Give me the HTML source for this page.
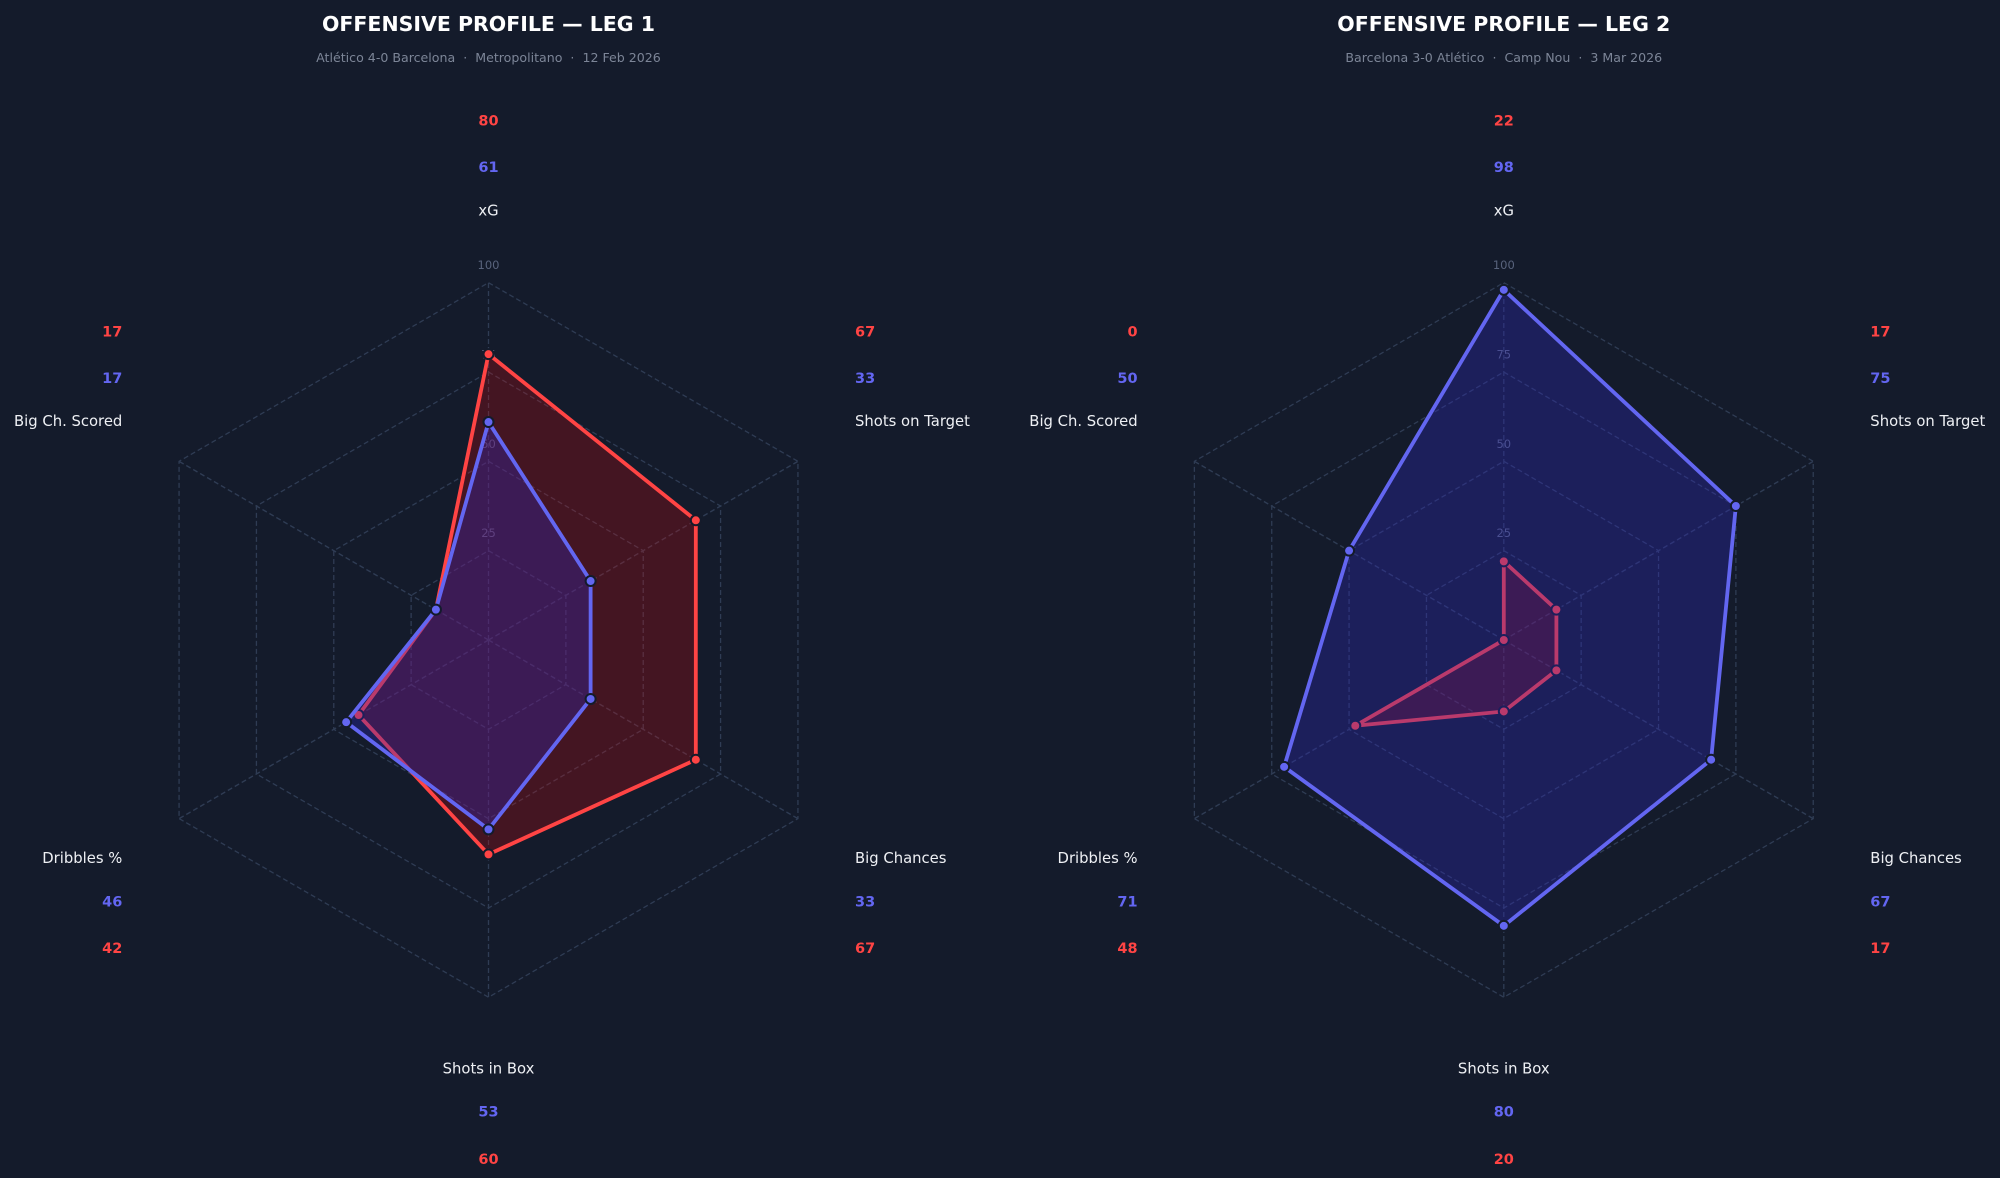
<!DOCTYPE html>
<html>
<head>
<meta charset="utf-8">
<style>
  html,body{margin:0;padding:0;background:#141b2b;}
  svg{display:block;}
  text{font-family:"DejaVu Sans","Liberation Sans",sans-serif;}
  .title{font-size:20.5px;font-weight:bold;fill:#ffffff;}
  .sub{font-size:12.6px;fill:#7c8597;white-space:pre;}
  .tick{font-size:11.5px;fill:#58637c;}
  .lab{font-size:14.8px;fill:#eef0f4;}
  .vr{font-size:14.5px;font-weight:bold;fill:#ff4444;}
  .vb{font-size:14.5px;font-weight:bold;fill:#6366f1;}
  .grid{fill:none;stroke:#2f3c54;stroke-width:1.3;stroke-dasharray:5 3;}
</style>
</head>
<body>
<svg width="2000" height="1178" viewBox="0 0 2000 1178" xmlns="http://www.w3.org/2000/svg">
  <rect x="0" y="0" width="2000" height="1178" fill="#141b2b"/>

  <!-- Titles -->
  <text class="title" x="488.5" y="30.8" text-anchor="middle">OFFENSIVE PROFILE — LEG 1</text>
  <text class="sub" x="488.5" y="62" text-anchor="middle" xml:space="preserve">Atlético 4-0 Barcelona  ·  Metropolitano  ·  12 Feb 2026</text>
  <text class="title" x="1503.8" y="30.8" text-anchor="middle">OFFENSIVE PROFILE — LEG 2</text>
  <text class="sub" x="1503.8" y="62" text-anchor="middle" xml:space="preserve">Barcelona 3-0 Atlético  ·  Camp Nou  ·  3 Mar 2026</text>

  <!-- LEG 1 -->
  <g transform="translate(488.5,640)">
    <polygon class="grid" points="0,-89.33 77.36,-44.66 77.36,44.66 0,89.33 -77.36,44.66 -77.36,-44.66"/>
    <polygon class="grid" points="0,-178.65 154.72,-89.33 154.72,89.33 0,178.65 -154.72,89.33 -154.72,-89.33"/>
    <polygon class="grid" points="0,-267.98 232.07,-133.99 232.07,133.99 0,267.98 -232.07,133.99 -232.07,-133.99"/>
    <polygon class="grid" points="0,-357.3 309.43,-178.65 309.43,178.65 0,357.3 -309.43,178.65 -309.43,-178.65"/>
    <line class="grid" x1="0" y1="0" x2="0" y2="-357.3"/>
    <line class="grid" x1="0" y1="0" x2="309.43" y2="-178.65"/>
    <line class="grid" x1="0" y1="0" x2="309.43" y2="178.65"/>
    <line class="grid" x1="0" y1="0" x2="0" y2="357.3"/>
    <line class="grid" x1="0" y1="0" x2="-309.43" y2="178.65"/>
    <line class="grid" x1="0" y1="0" x2="-309.43" y2="-178.65"/>
    <text class="tick" x="0" y="-102.8" text-anchor="middle">25</text>
    <text class="tick" x="0" y="-192.1" text-anchor="middle">50</text>
    <text class="tick" x="0" y="-281.5" text-anchor="middle">75</text>
    <text class="tick" x="0" y="-370.8" text-anchor="middle">100</text>

    <!-- red (Atlético) -->
    <polygon points="0,-285.84 207.32,-119.70 207.32,119.70 0,214.38 -129.96,75.03 -52.60,-30.37" fill="rgb(230,5,5)" fill-opacity="0.23" stroke="none"/>
    <polygon points="0,-285.84 207.32,-119.70 207.32,119.70 0,214.38 -129.96,75.03 -52.60,-30.37" fill="none" stroke="#ff4444" stroke-width="3.8" stroke-linejoin="miter"/>
    <g fill="#ff4444" stroke="#141b2b" stroke-width="2">
      <circle cx="0" cy="-285.84" r="5"/>
      <circle cx="207.32" cy="-119.70" r="5"/>
      <circle cx="207.32" cy="119.70" r="5"/>
      <circle cx="0" cy="214.38" r="5"/>
      <circle cx="-129.96" cy="75.03" r="5"/>
      <circle cx="-52.60" cy="-30.37" r="5"/>
    </g>
    <!-- blue (Barcelona) -->
    <polygon points="0,-217.95 102.11,-58.95 102.11,58.95 0,189.37 -142.34,82.18 -52.60,-30.37" fill="rgb(45,40,190)" fill-opacity="0.33" stroke="none"/>
    <polygon points="0,-217.95 102.11,-58.95 102.11,58.95 0,189.37 -142.34,82.18 -52.60,-30.37" fill="none" stroke="#6366f1" stroke-width="3.8"/>
    <g fill="#6366f1" stroke="#141b2b" stroke-width="2">
      <circle cx="0" cy="-217.95" r="5"/>
      <circle cx="102.11" cy="-58.95" r="5"/>
      <circle cx="102.11" cy="58.95" r="5"/>
      <circle cx="0" cy="189.37" r="5"/>
      <circle cx="-142.34" cy="82.18" r="5"/>
      <circle cx="-52.60" cy="-30.37" r="5"/>
    </g>

    <!-- labels -->
    <text class="vr" x="0" y="-514.5" text-anchor="middle">80</text>
    <text class="vb" x="0" y="-467.8" text-anchor="middle">61</text>
    <text class="lab" x="0" y="-424.5" text-anchor="middle">xG</text>

    <text class="vr" x="366.5" y="-303.7" text-anchor="start">67</text>
    <text class="vb" x="366.5" y="-257" text-anchor="start">33</text>
    <text class="lab" x="366.5" y="-214" text-anchor="start">Shots on Target</text>

    <text class="lab" x="366.5" y="223" text-anchor="start">Big Chances</text>
    <text class="vb" x="366.5" y="266.3" text-anchor="start">33</text>
    <text class="vr" x="366.5" y="312.8" text-anchor="start">67</text>

    <text class="lab" x="0" y="433.7" text-anchor="middle">Shots in Box</text>
    <text class="vb" x="0" y="476.5" text-anchor="middle">53</text>
    <text class="vr" x="0" y="523.8" text-anchor="middle">60</text>

    <text class="lab" x="-366.2" y="223" text-anchor="end">Dribbles %</text>
    <text class="vb" x="-366.2" y="266.3" text-anchor="end">46</text>
    <text class="vr" x="-366.2" y="312.8" text-anchor="end">42</text>

    <text class="vr" x="-366.2" y="-303.7" text-anchor="end">17</text>
    <text class="vb" x="-366.2" y="-257" text-anchor="end">17</text>
    <text class="lab" x="-366.2" y="-214" text-anchor="end">Big Ch. Scored</text>
  </g>

  <!-- LEG 2 -->
  <g transform="translate(1503.8,640)">
    <polygon class="grid" points="0,-89.33 77.36,-44.66 77.36,44.66 0,89.33 -77.36,44.66 -77.36,-44.66"/>
    <polygon class="grid" points="0,-178.65 154.72,-89.33 154.72,89.33 0,178.65 -154.72,89.33 -154.72,-89.33"/>
    <polygon class="grid" points="0,-267.98 232.07,-133.99 232.07,133.99 0,267.98 -232.07,133.99 -232.07,-133.99"/>
    <polygon class="grid" points="0,-357.3 309.43,-178.65 309.43,178.65 0,357.3 -309.43,178.65 -309.43,-178.65"/>
    <line class="grid" x1="0" y1="0" x2="0" y2="-357.3"/>
    <line class="grid" x1="0" y1="0" x2="309.43" y2="-178.65"/>
    <line class="grid" x1="0" y1="0" x2="309.43" y2="178.65"/>
    <line class="grid" x1="0" y1="0" x2="0" y2="357.3"/>
    <line class="grid" x1="0" y1="0" x2="-309.43" y2="178.65"/>
    <line class="grid" x1="0" y1="0" x2="-309.43" y2="-178.65"/>
    <text class="tick" x="0" y="-102.8" text-anchor="middle">25</text>
    <text class="tick" x="0" y="-192.1" text-anchor="middle">50</text>
    <text class="tick" x="0" y="-281.5" text-anchor="middle">75</text>
    <text class="tick" x="0" y="-370.8" text-anchor="middle">100</text>

    <!-- red (Atlético) -->
    <polygon points="0,-78.61 52.60,-30.37 52.60,30.37 0,71.46 -148.53,85.75 0,0" fill="rgb(230,5,5)" fill-opacity="0.23" stroke="none"/>
    <polygon points="0,-78.61 52.60,-30.37 52.60,30.37 0,71.46 -148.53,85.75 0,0" fill="none" stroke="#ff4444" stroke-width="3.8"/>
    <g fill="#ff4444" stroke="#141b2b" stroke-width="2">
      <circle cx="0" cy="-78.61" r="5"/>
      <circle cx="52.60" cy="-30.37" r="5"/>
      <circle cx="52.60" cy="30.37" r="5"/>
      <circle cx="0" cy="71.46" r="5"/>
      <circle cx="-148.53" cy="85.75" r="5"/>
      <circle cx="0" cy="0" r="5"/>
    </g>
    <!-- blue (Barcelona) -->
    <polygon points="0,-350.15 232.07,-133.99 207.32,119.70 0,285.84 -219.69,126.84 -154.72,-89.33" fill="rgb(45,40,190)" fill-opacity="0.33" stroke="none"/>
    <polygon points="0,-350.15 232.07,-133.99 207.32,119.70 0,285.84 -219.69,126.84 -154.72,-89.33" fill="none" stroke="#6366f1" stroke-width="3.8"/>
    <g fill="#6366f1" stroke="#141b2b" stroke-width="2">
      <circle cx="0" cy="-350.15" r="5"/>
      <circle cx="232.07" cy="-133.99" r="5"/>
      <circle cx="207.32" cy="119.70" r="5"/>
      <circle cx="0" cy="285.84" r="5"/>
      <circle cx="-219.69" cy="126.84" r="5"/>
      <circle cx="-154.72" cy="-89.33" r="5"/>
    </g>

    <!-- labels -->
    <text class="vr" x="0" y="-514.5" text-anchor="middle">22</text>
    <text class="vb" x="0" y="-467.8" text-anchor="middle">98</text>
    <text class="lab" x="0" y="-424.5" text-anchor="middle">xG</text>

    <text class="vr" x="366.5" y="-303.7" text-anchor="start">17</text>
    <text class="vb" x="366.5" y="-257" text-anchor="start">75</text>
    <text class="lab" x="366.5" y="-214" text-anchor="start">Shots on Target</text>

    <text class="lab" x="366.5" y="223" text-anchor="start">Big Chances</text>
    <text class="vb" x="366.5" y="266.3" text-anchor="start">67</text>
    <text class="vr" x="366.5" y="312.8" text-anchor="start">17</text>

    <text class="lab" x="0" y="433.7" text-anchor="middle">Shots in Box</text>
    <text class="vb" x="0" y="476.5" text-anchor="middle">80</text>
    <text class="vr" x="0" y="523.8" text-anchor="middle">20</text>

    <text class="lab" x="-366.2" y="223" text-anchor="end">Dribbles %</text>
    <text class="vb" x="-366.2" y="266.3" text-anchor="end">71</text>
    <text class="vr" x="-366.2" y="312.8" text-anchor="end">48</text>

    <text class="vr" x="-366.2" y="-303.7" text-anchor="end">0</text>
    <text class="vb" x="-366.2" y="-257" text-anchor="end">50</text>
    <text class="lab" x="-366.2" y="-214" text-anchor="end">Big Ch. Scored</text>
  </g>
</svg>
</body>
</html>
